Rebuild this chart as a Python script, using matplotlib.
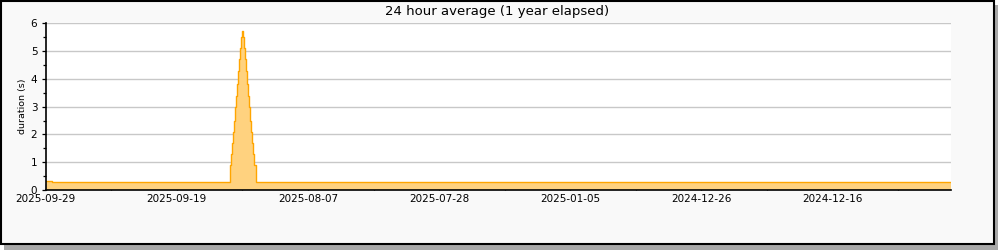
import numpy as np
import matplotlib
matplotlib.use("Agg")
import matplotlib.pyplot as plt
from matplotlib.patches import Rectangle

plt.rcParams["font.family"] = "DejaVu Sans"

# step data: start index of each step and its value (last step runs to the end)
step_start = [0, 6, 184, 185, 186, 187, 188, 189, 190, 191, 192, 193, 194, 195, 196,
              197, 198, 199, 200, 201, 202, 203, 204, 205, 206, 207, 208, 210]
step_value = [0.32, 0.28, 0.9, 1.3, 1.7, 2.1, 2.5, 3.0, 3.4, 3.8, 4.3, 4.7, 5.1, 5.5, 5.72,
              5.5, 5.1, 4.7, 4.3, 3.8, 3.4, 3.0, 2.5, 2.1, 1.7, 1.3, 0.9, 0.28]
n_samples = 905

tick_labels = ["2025-09-29", "2025-09-19", "2025-08-07", "2025-07-28",
               "2025-01-05", "2024-12-26", "2024-12-16"]
title = "24 hour average (1 year elapsed)"
ylabel = "duration (s)"

fill_col = "#FFD27F"
edge_col = "#FFA500"

fig = plt.figure(figsize=(10, 2.5), dpi=100)
fig.patch.set_facecolor("white")

# shadow + frame
fig.patches.append(Rectangle((0.004, 0.0), 0.994, 0.98, transform=fig.transFigure,
                             facecolor="#A8A8A8", edgecolor="none", zorder=0))
fig.patches.append(Rectangle((0.0007, 0.024), 0.9935, 0.973, transform=fig.transFigure,
                             facecolor="#F9F9F9", edgecolor="black", linewidth=1.5, zorder=1))

ax = fig.add_axes([0.0457, 0.24, 0.9053, 0.6668])
ax.set_facecolor("white")
ax.set_zorder(2)

x = np.array(step_start + [n_samples])
y = np.array(step_value + [step_value[-1]])
ax.fill_between(x, 0, y, step="post", facecolor=fill_col, edgecolor="none", zorder=2)
ax.step(x, y, where="post", color=edge_col, linewidth=1.0, zorder=3)

ax.set_xlim(0, n_samples)
ax.set_ylim(0, 6)

spacing = 131.1
major = np.arange(len(tick_labels)) * spacing
minor = major + spacing / 2
ax.set_xticks(major)
ax.set_xticklabels(tick_labels)
ax.set_xticks(minor, minor=True)
ax.tick_params(axis="x", which="both", direction="in", length=4.5, width=0.9,
               labelsize=7.5, pad=3)
ax.set_yticks(range(0, 7))
ax.set_yticks(np.arange(0.5, 6, 1.0), minor=True)
ax.tick_params(axis="y", which="major", direction="out", length=3, width=0.9,
               labelsize=7.5, pad=3)
ax.tick_params(axis="y", which="minor", direction="out", length=2, width=0.9)

ax.yaxis.grid(True, color="#C8C8C8", linewidth=1.0, zorder=1)
ax.set_axisbelow(True)
for side in ["top", "right"]:
    ax.spines[side].set_visible(False)
for side in ["left", "bottom"]:
    ax.spines[side].set_linewidth(1.2)
    ax.spines[side].set_zorder(4)

ax.set_ylabel(ylabel, fontsize=6.8, labelpad=3)
fig.text(0.497, 1 - 12 / 250, title, ha="center", va="center", fontsize=9.5, zorder=3)

fig.savefig("out.png", dpi=100)
